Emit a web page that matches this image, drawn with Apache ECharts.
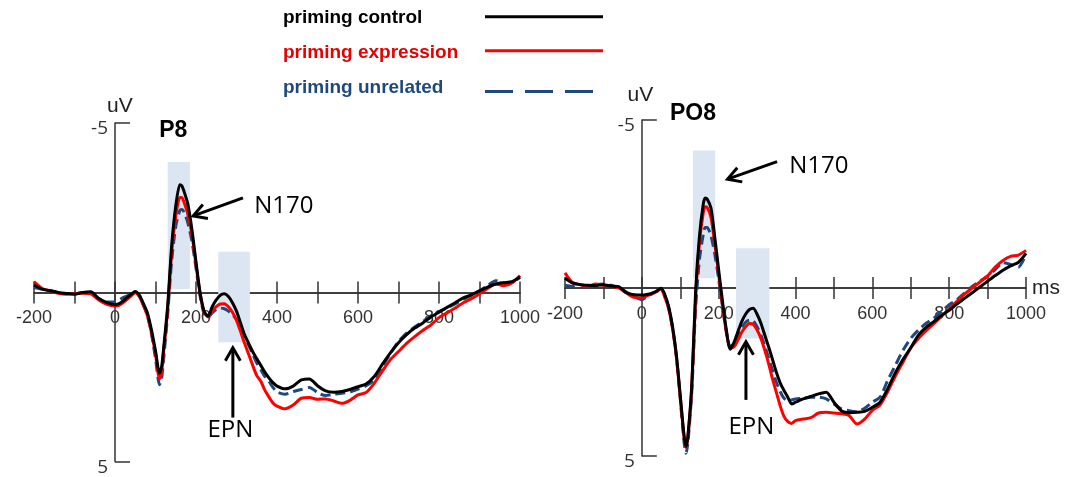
<!DOCTYPE html>
<html><head><meta charset="utf-8">
<script src="https://cdn.jsdelivr.net/npm/echarts@6/dist/echarts.min.js"></script>
<style>html,body{margin:0;padding:0;background:#fff}#main{width:1077px;height:477px}</style>
</head><body><div id="main"></div>
<script>
// ---- data (ms, uV) ----
const times = [
  -200,-180,-160,-140,-120,-100,-80,-60,-40,-20,
  0,10,20,30,40,50,60,70,80,90,100,110,
  115,120,130,140,150,160,165,
  170,180,190,200,210,220,230,240,250,260,270,280,290,300,310,320,330,340,350,360,370,380,390,400,
  420,440,460,480,500,520,540,560,580,600,620,640,660,680,700,720,740,760,780,800,820,840,860,880,900,920,940,960,980,1000
];
const p8Control = [
  -0.22,-0.1,-0.05,0,0.03,0.05,0,-0.02,0.18,0.3,
  0.36,0.33,0.25,0.15,0.05,-0.03,0.08,0.32,0.6,1.1,1.72,2.38,
  2.2,1.65,0.4,-1.4,-2.55,-3.18,-3.15,
  -3.0,-2.6,-1.85,-0.9,0.0,0.55,0.7,0.42,0.22,0.08,0.04,0.12,0.3,0.55,0.9,1.25,1.5,1.75,1.95,2.15,2.35,2.52,2.66,2.76,
  2.84,2.76,2.58,2.55,2.75,2.9,2.94,2.92,2.86,2.78,2.7,2.48,2.12,1.78,1.48,1.24,1.05,0.9,0.72,0.58,0.44,0.3,0.16,0.07,-0.05,-0.16,-0.25,-0.29,-0.32,-0.46
];
const p8Expression = [
  -0.32,-0.12,-0.05,0.02,0.05,0.04,0.02,0.04,0.22,0.35,
  0.4,0.38,0.3,0.2,0.1,0.0,0.12,0.38,0.68,1.18,1.82,2.55,
  2.35,1.75,0.5,-1.2,-2.25,-2.8,-2.8,
  -2.68,-2.3,-1.7,-0.82,0.02,0.58,0.72,0.55,0.42,0.34,0.33,0.42,0.58,0.82,1.15,1.5,1.82,2.15,2.45,2.62,2.88,3.08,3.26,3.35,
  3.43,3.32,3.12,3.1,3.15,3.14,3.2,3.27,3.18,3.02,2.95,2.68,2.32,1.98,1.74,1.5,1.3,1.12,0.96,0.74,0.6,0.46,0.3,0.18,0.04,-0.12,-0.25,-0.2,-0.28,-0.5
];
const p8Unrelated = [
  -0.15,-0.1,-0.06,0,0.03,0.03,0,0.03,0.18,0.28,
  0.28,0.22,0.15,0.1,0.05,0,0.1,0.36,0.68,1.22,1.95,2.72,
  2.55,1.98,0.65,-0.95,-1.95,-2.42,-2.45,
  -2.38,-2.05,-1.5,-0.72,0.1,0.62,0.72,0.6,0.5,0.46,0.48,0.55,0.66,0.8,1.0,1.28,1.55,1.82,2.08,2.28,2.48,2.62,2.8,2.93,
  3.0,2.92,2.86,2.8,2.95,3.04,3.0,2.97,2.93,2.85,2.75,2.58,2.18,1.8,1.45,1.2,1.02,0.86,0.7,0.56,0.45,0.34,0.2,0.08,-0.05,-0.2,-0.35,-0.28,-0.3,-0.44
];
const po8Control = [
  -0.29,-0.15,-0.1,-0.08,-0.07,-0.1,-0.06,-0.04,0.14,0.2,
  0.21,0.2,0.18,0.14,0.08,0.01,0.2,0.56,1.15,2.0,3.2,4.4,
  4.72,4.4,2.9,0.1,-1.55,-2.5,-2.68,
  -2.65,-2.38,-1.5,-0.54,0.4,1.25,1.82,1.62,1.3,1.0,0.78,0.64,0.6,0.78,1.05,1.4,1.75,2.12,2.5,2.82,3.05,3.25,3.45,3.4,
  3.3,3.23,3.15,3.1,3.4,3.66,3.71,3.7,3.67,3.55,3.4,3.0,2.52,2.12,1.78,1.4,1.17,1.0,0.82,0.66,0.48,0.31,0.14,-0.03,-0.2,-0.37,-0.53,-0.66,-0.76,-1.03
];
const po8Expression = [
  -0.45,-0.15,-0.1,-0.05,-0.12,-0.08,-0.05,0,0.15,0.28,
  0.3,0.25,0.2,0.15,0.1,0.02,0.28,0.62,1.2,2.05,3.25,4.45,
  4.75,4.42,2.95,0.3,-1.35,-2.25,-2.42,
  -2.4,-2.1,-1.3,-0.4,0.5,1.32,1.8,1.75,1.55,1.32,1.15,1.06,1.08,1.25,1.5,1.85,2.25,2.7,3.1,3.5,3.82,3.98,4.03,3.95,
  3.9,3.86,3.72,3.7,3.72,3.74,3.8,4.05,3.9,3.64,3.48,3.08,2.62,2.2,1.78,1.5,1.27,1.06,0.84,0.62,0.4,0.18,0,-0.18,-0.36,-0.62,-0.82,-0.94,-0.98,-1.12
];
const po8Unrelated = [
  -0.08,-0.05,-0.1,-0.05,-0.1,-0.12,-0.08,0,0.12,0.25,
  0.35,0.28,0.22,0.15,0.08,0.02,0.24,0.6,1.2,2.05,3.3,4.6,
  4.92,4.6,3.1,0.6,-0.85,-1.6,-1.8,
  -1.8,-1.55,-1.0,-0.25,0.55,1.3,1.75,1.65,1.42,1.18,1.02,0.96,0.98,1.15,1.4,1.72,2.08,2.45,2.8,3.08,3.28,3.35,3.33,3.3,
  3.28,3.25,3.25,3.3,3.45,3.6,3.65,3.68,3.58,3.4,3.25,2.75,2.3,1.85,1.5,1.25,1.05,0.9,0.7,0.5,0.35,0.15,-0.05,-0.2,-0.35,-0.55,-0.75,-0.7,-0.62,-1.0
];
// analysis windows: [startMs, endMs, topUV, bottomUV]
const p8Windows = [[130,185,-3.85,-0.1],[255,333,-1.2,1.47]];
const po8Windows = [[133,191,-4.09,-0.29],[245,332,-1.18,1.5]];
const seriesNames = ['priming control','priming expression','priming unrelated'];
const panelTitles = ['P8','PO8'];
const xTickLabels = [-200,0,200,400,600,800,1000];
const yTickLabels = [-5,5];
const X_MIN = -200, X_MAX = 1000, Y_MIN = -5, Y_MAX = 5;

// ---- styling / layout ----
const C_BLACK = '#000000', C_RED = '#FF0000', C_BLUE = '#1F497D';
const AX = {color:'#333333', width:1.5};
const panels = [
  {left:34, top:123, width:486, height:339},
  {left:565, top:120, width:461, height:336}
];

function pairs(arr){ return times.map((t,i)=>[t, arr[i]]); }
function areas(w){ return w.map(r=>[{coord:[r[0], r[2]]},{coord:[r[1], r[3]]}]); }

const grids = [], xAxes = [], yAxes = [];
function addGrid(g){ grids.push(g); return grids.length - 1; }
function hiddenX(gi, extra){ xAxes.push(Object.assign({type:'value', gridIndex:gi, show:false, min:0, max:1, axisLine:{onZero:false}}, extra||{})); return xAxes.length-1; }
function hiddenY(gi, extra){ yAxes.push(Object.assign({type:'value', gridIndex:gi, show:false, min:0, max:1, axisLine:{onZero:false}}, extra||{})); return yAxes.length-1; }

const dataAxes = [];
panels.forEach((p, pi)=>{
  // data grid (hidden scales used by the series)
  const gd = addGrid({left:p.left, top:p.top, width:p.width, height:p.height});
  const xi = hiddenX(gd, {min:X_MIN, max:X_MAX});
  const yi = hiddenY(gd, {min:Y_MIN, max:Y_MAX, inverse:true});
  dataAxes.push({xi:xi, yi:yi});
  // zero line positions from the scales
  const zeroY = p.top + p.height * (0 - Y_MIN) / (Y_MAX - Y_MIN);
  const zeroX = p.left + p.width * (0 - X_MIN) / (X_MAX - X_MIN);
  // upper half grid: x axis at its bottom (ticks down + labels)
  const gu = addGrid({left:p.left, top:p.top, width:p.width, height:zeroY - p.top});
  xAxes.push({type:'value', gridIndex:gu, position:'bottom', min:X_MIN, max:X_MAX, interval:100,
    splitLine:{show:false}, axisLine:{onZero:false, lineStyle:AX}, axisTick:{length:11, lineStyle:AX},
    axisLabel:{formatter:v=> xTickLabels.indexOf(v)>=0 ? String(v) : '', fontSize:18, color:'#333', margin:17, fontFamily:'Liberation Sans'},
    name: pi===1 ? 'ms' : '', nameLocation:'end', nameGap:6,
    nameTextStyle:{fontSize:21, color:'#222', fontFamily:'Liberation Sans', padding:[10,0,0,0]}});
  hiddenY(gu);
  // lower half grid: x axis at its top (ticks up)
  const gl = addGrid({left:p.left, top:zeroY, width:p.width, height:p.top + p.height - zeroY});
  xAxes.push({type:'value', gridIndex:gl, position:'top', min:X_MIN, max:X_MAX, interval:100,
    splitLine:{show:false}, axisLine:{onZero:false, lineStyle:AX}, axisTick:{length:11, lineStyle:AX},
    axisLabel:{show:false}});
  hiddenY(gl);
  // y axis grid at x = 0 ms
  const gy = addGrid({left:zeroX, top:p.top, width:1, height:p.height});
  hiddenX(gy);
  yAxes.push({type:'value', gridIndex:gy, position:'left', min:Y_MIN, max:Y_MAX, interval:5, inverse:true,
    splitLine:{show:false}, axisLine:{onZero:false, lineStyle:AX}, axisTick:{inside:true, length:15, lineStyle:AX},
    axisLabel:{formatter:v=> yTickLabels.indexOf(v)>=0 ? String(v) : '', fontSize:19, color:'#333', margin:7,
      verticalAlign:'top', lineHeight:12, fontFamily:'Open Sans'}});
});

function lineSeries(name, data, color, pi, dashed, extra){
  return Object.assign({
    type:'line', name:name, data:pairs(data), xAxisIndex:dataAxes[pi].xi, yAxisIndex:dataAxes[pi].yi,
    symbol:'none', smooth:0.25, silent:true, z:2,
    lineStyle:{color:color, width:3, type: dashed ? [10,5] : 'solid'},
    itemStyle:{color:color}
  }, extra||{});
}

const option = {
  backgroundColor:'#ffffff',
  animation:false,
  grid: grids,
  xAxis: xAxes,
  yAxis: yAxes,
  series:[
    lineSeries(seriesNames[2], p8Unrelated, C_BLUE, 0, true, {markArea:{silent:true, itemStyle:{color:'#DCE6F2'}, data:areas(p8Windows)}}),
    lineSeries(seriesNames[1], p8Expression, C_RED, 0, false),
    lineSeries(seriesNames[0], p8Control, C_BLACK, 0, false),
    lineSeries(seriesNames[2], po8Unrelated, C_BLUE, 1, true, {markArea:{silent:true, itemStyle:{color:'#DCE6F2'}, data:areas(po8Windows)}}),
    lineSeries(seriesNames[1], po8Expression, C_RED, 1, false),
    lineSeries(seriesNames[0], po8Control, C_BLACK, 1, false)
  ]
};

const chart = echarts.init(document.getElementById('main'));
chart.setOption(option);

// ---- key (text left, line sample right) ----
const keyRows = [
  {textColor:'#000000', line:C_BLACK, dash:null, ty:17.3, ly:16.7},
  {textColor:'#E60000', line:C_RED, dash:null, ty:52.5, ly:50.7},
  {textColor:C_BLUE, line:C_BLUE, dash:[28,12], ty:87.3, ly:91.5}
];
const g = [];
keyRows.forEach((r,i)=>{
  g.push({type:'text', silent:true, x:283, y:r.ty, style:{text:seriesNames[i], fontSize:19, fontWeight:'bold', fontFamily:'Liberation Sans', fill:r.textColor, align:'left', verticalAlign:'middle'}});
  g.push({type:'line', silent:true, shape:{x1:485, y1:r.ly, x2:r.dash ? 593 : 603, y2:r.ly}, style:{stroke:r.line, lineWidth:3, lineDash:r.dash || null}});
});

// ---- annotations (anchored in data space: [ms, uV]) ----
const annotations = [
  {panel:0, text:'N170', at:[417,-2.55], from:[316,-2.79], to:[193,-2.26]},
  {panel:0, text:'EPN', at:[285,4.07], from:[291,3.69], to:[291,1.63]},
  {panel:1, text:'N170', at:[461,-3.62], from:[352,-3.76], to:[223,-3.24]},
  {panel:1, text:'EPN', at:[285,4.13], from:[271,3.33], to:[271,1.6]}
];
const titleAnchors = [{panel:0, at:[144,-4.77]},{panel:1, at:[133,-5.18]}];
const unitAnchors = [{panel:0, at:[12,-5.5]},{panel:1, at:[-4,-5.74]}];

function px(pi, p){ return chart.convertToPixel({xAxisIndex:dataAxes[pi].xi, yAxisIndex:dataAxes[pi].yi}, p); }
function arrow(p0, p1){
  const dx=p1[0]-p0[0], dy=p1[1]-p0[1], L=Math.hypot(dx,dy), ux=dx/L, uy=dy/L;
  const h=13, w=7.5;
  const a=[p1[0]-ux*h-uy*w, p1[1]-uy*h+ux*w];
  const b=[p1[0]-ux*h+uy*w, p1[1]-uy*h-ux*w];
  return [
    {type:'line', silent:true, shape:{x1:p0[0],y1:p0[1],x2:p1[0]-ux*1.5,y2:p1[1]-uy*1.5}, style:{stroke:'#000',lineWidth:3}},
    {type:'polyline', silent:true, shape:{points:[a,p1,b]}, style:{stroke:'#000',lineWidth:3,fill:null,lineJoin:'miter'}}
  ];
}
annotations.forEach(a=>{
  const c = px(a.panel, a.at);
  g.push({type:'text', silent:true, x:c[0], y:c[1], style:{text:a.text, fontSize:24, fontFamily:'Open Sans', fill:'#000', align:'center', verticalAlign:'middle'}});
  arrow(px(a.panel,a.from), px(a.panel,a.to)).forEach(e=>g.push(e));
});
titleAnchors.forEach((t,i)=>{
  const c = px(t.panel, t.at);
  g.push({type:'text', silent:true, x:c[0], y:c[1], style:{text:panelTitles[i], fontSize:23, fontWeight:'bold', fontFamily:'Liberation Sans', fill:'#000', align:'center', verticalAlign:'middle'}});
});
unitAnchors.forEach(t=>{
  const c = px(t.panel, t.at);
  g.push({type:'text', silent:true, x:c[0], y:c[1], style:{text:'uV', fontSize:21, fontFamily:'Liberation Sans', fill:'#222', align:'center', verticalAlign:'middle'}});
});
chart.setOption({graphic:g});
</script>
</body></html>
